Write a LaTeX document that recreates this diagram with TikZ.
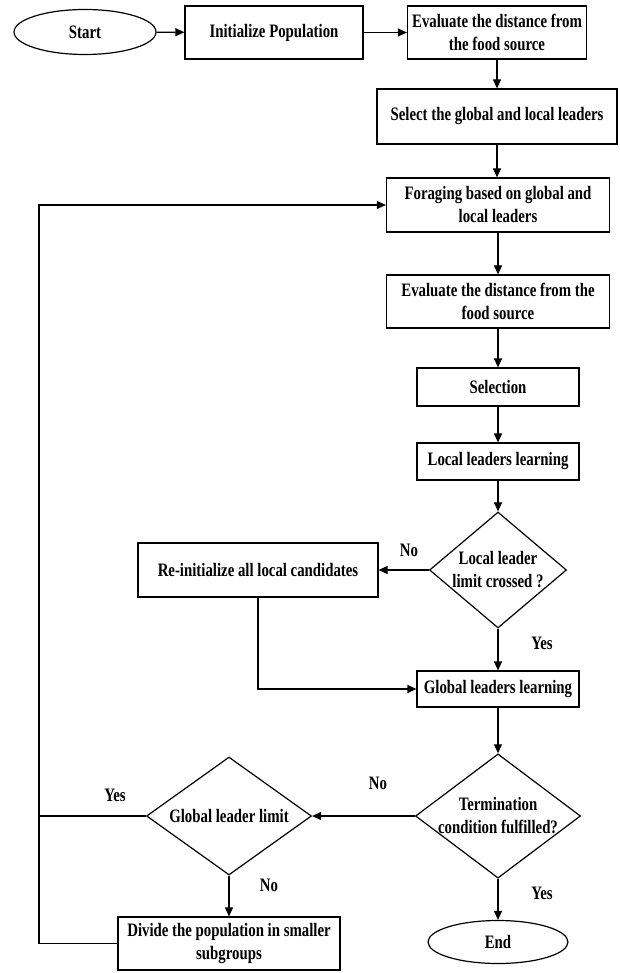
\documentclass[tikz,border=0pt]{standalone}
\usepackage{fontspec}
\setmainfont{Liberation Serif}[FakeStretch=0.78]
\usetikzlibrary{arrows.meta,shapes.geometric}

\begin{document}
\begin{tikzpicture}[x=1pt, y=-1pt, line width=1.2pt,
	font=\bfseries\fontsize{19}{23}\selectfont,
	box/.style={draw, rectangle, align=center, inner sep=0pt},
	term/.style={draw, ellipse, inner sep=0pt},
	decide/.style={draw, diamond, align=center, inner sep=-8pt},
	arr/.style={-{Triangle[length=9pt,width=8pt]}}]
			%%%%% START %%%%%
			\useasboundingbox (0, 0) rectangle (620, 973);
			
			% top row
			\node[term, minimum width=142, minimum height=45] (start) at (85, 32) {Start};
			\node[box, minimum width=178, minimum height=53] (init) at (274, 32.5) {Initialize Population};
			\node[box, minimum width=179, minimum height=53] (eval1) at (497, 32.5) {Evaluate the distance from\\the food source};
			
			% main column
			\node[box, minimum width=240, minimum height=55] (select) at (497, 116.5) {Select the global and local leaders};
			\node[box, minimum width=223, minimum height=54] (forage) at (498, 205) {Foraging based on global and\\local leaders};
			\node[box, minimum width=223, minimum height=53] (eval2) at (498, 301.5) {Evaluate the distance from the\\food source};
			\node[box, minimum width=162, minimum height=38] (selection) at (498, 387) {Selection};
			\node[box, minimum width=162, minimum height=37] (local) at (498, 461.5) {Local leaders learning};
			\node[decide, minimum width=137, minimum height=116] (llcheck) at (498, 570) {Local leader\\limit crossed ?};
			\node[box, minimum width=240, minimum height=54] (reinit) at (258, 570) {Re-initialize all local candidates};
			\node[box, minimum width=162, minimum height=36] (global) at (498, 689) {Global leaders learning};
			\node[decide, minimum width=165, minimum height=117] (termcheck) at (498, 816) {Termination\\condition fulfilled?};
			\node[decide, minimum width=165, minimum height=118] (glcheck) at (229, 816) {Global leader limit};
			\node[box, minimum width=222, minimum height=53] (divide) at (229, 943.5) {Divide the population in smaller\\subgroups};
			\node[term, minimum width=140, minimum height=43] (end) at (498, 942) {End};
			
			% labels
			\node (nolocal) at (409, 550) {No};
			\node (yeslocal) at (542, 643) {Yes};
			\node (noterm) at (378, 783) {No};
			\node (yesglobal) at (115, 795) {Yes};
			\node (noglobal) at (269, 885) {No};
			\node (yesterm) at (542, 893) {Yes};
			
			\coordinate (join) at (39, 816);
			\coordinate (bend) at (39, 943.5);
			
			\draw[arr] (start) -- (init);
			\draw[arr] (init) -- (eval1);
			\draw[arr] (eval1.south) -- (eval1.south |- select.north);
			\draw[arr] (select.south) -- (select.south |- forage.north);
			\draw[arr] (forage) -- (eval2);
			\draw[arr] (eval2) -- (selection);
			\draw[arr] (selection) -- (local);
			\draw[arr] (local) -- (llcheck);
			\draw[arr] (llcheck) -- (reinit);
			\draw[arr] (llcheck) -- (global);
			\draw[arr] (reinit.south) |- (global.west);
			\draw[arr] (global) -- (termcheck);
			\draw[arr] (termcheck) -- (glcheck);
			\draw[arr] (termcheck) -- (end);
			\draw[arr] (glcheck) -- (divide);
			\draw (glcheck.west) -- (join);
			\draw[arr] (divide.west) -- (bend) |- (forage.west);
			
			%%%%% END %%%%%
\end{tikzpicture}
\end{document}
